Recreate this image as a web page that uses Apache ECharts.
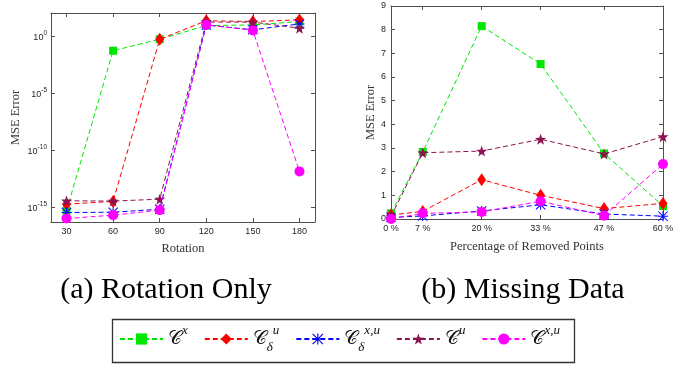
<!DOCTYPE html>
<html>
<head>
<meta charset="utf-8">
<script src="https://cdn.jsdelivr.net/npm/echarts@6/dist/echarts.min.js"></script>
<style>html,body{margin:0;padding:0;background:#fff}#c{width:685px;height:367px}</style>
</head>
<body>
<div id="c"></div>
<script>
// ---------- data ----------
const seriesNames = ['C^x', 'C^u_delta', 'C^{x,u}_delta', 'C^u', 'C^{x,u}'];

// (a) Rotation Only: x = rotation angle, y = MSE error (log scale)
const rotation = [30, 60, 90, 120, 150, 180];
const rotCx      = [5e-16, 0.05, 0.5, 8, 9, 18];
const rotCuD     = [1.8e-15, 3.2e-15, 0.5, 21, 18, 25];
const rotCxuD    = [3.4e-16, 3.6e-16, 6.6e-16, 9, 3.4, 11];
const rotCu      = [3.6e-15, 3.4e-15, 5e-15, 16, 16, 4.7];
const rotCxu     = [1e-16, 2e-16, 5.5e-16, 9, 3, 1.35e-12];
const rotYTickExponents = [-15, -10, -5, 0];

// (b) Missing Data: x = percentage of removed points, y = MSE error
const removedPct = [0, 7, 20, 33, 47, 60];
const removedPctLabels = ['0 %', '7 %', '20 %', '33 %', '47 %', '60 %'];
const missCx   = [0.24, 2.83, 8.15, 6.55, 2.77, 0.55];
const missCuD  = [0.17, 0.32, 1.66, 1.0, 0.44, 0.66];
const missCxuD = [0.07, 0.13, 0.34, 0.6, 0.21, 0.12];
const missCu   = [0.1, 2.8, 2.87, 3.37, 2.75, 3.48];
const missCxu  = [0.0, 0.24, 0.3, 0.75, 0.14, 2.32];

const legendLabels = [
  '{c|𝒞}{sup|x}',
  '{c|𝒞}{sub|δ}{sup|u}',
  '{c|𝒞}{sub|δ}{sup|x,u}',
  '{c|𝒞}{sup|u}',
  '{c|𝒞}{sup|x,u}'
];
const captions = ['(a) Rotation Only', '(b) Missing Data'];

// ---------- styles ----------
const asteriskPath = 'path://M9,0 L11,0 L11,20 L9,20 Z M0,9 L20,9 L20,11 L0,11 Z M1.4,0 L20,18.6 L18.6,20 L0,1.4 Z M18.6,0 L20,1.4 L1.4,20 L0,18.6 Z';
const starPath = 'path://M10,0.5 L12.35,7.26 L19.51,7.41 L13.8,11.74 L15.88,18.59 L10,14.5 L4.12,18.59 L6.2,11.74 L0.49,7.41 L7.65,7.26 Z';
const styles = [
  {color: '#00e600', symbol: 'rect', size: 8},
  {color: '#ff0000', symbol: 'diamond', size: [9, 13]},
  {color: '#0000ff', symbol: asteriskPath, size: 10},
  {color: '#8c1450', symbol: starPath, size: 11},
  {color: '#ff00ff', symbol: 'circle', size: 10}
];

const rotData = [rotCx, rotCuD, rotCxuD, rotCu, rotCxu];
const missData = [missCx, missCuD, missCxuD, missCu, missCxu];

const axisColor = '#505050';
const tickFont = {fontFamily: 'Liberation Sans', fontSize: 9, color: '#262626'};
const nameFont = {fontFamily: 'Liberation Serif', fontSize: 12.5, color: '#333'};

function boxAxis(type, pos, gridIndex, extra) {
  return Object.assign({
    type: 'value', position: pos, gridIndex: gridIndex,
    axisLine: {show: true, onZero: false, lineStyle: {color: axisColor, width: 1}},
    axisTick: {show: true, inside: true, length: 4, lineStyle: {color: axisColor}},
    axisLabel: {show: false},
    splitLine: {show: false}
  }, extra);
}

const series = [];
for (let i = 0; i < 5; i++) {
  const st = styles[i];
  const common = {
    type: 'line', name: seriesNames[i], symbol: st.symbol, symbolSize: st.size,
    lineStyle: {color: st.color, width: 1, type: [5, 3]},
    itemStyle: {color: st.color},
    animation: false, z: 2 + i
  };
  series.push(Object.assign({}, common, {
    xAxisIndex: 0, yAxisIndex: 0,
    data: rotation.map((x, k) => [x, Math.log10(rotData[i][k])])
  }));
  series.push(Object.assign({}, common, {
    xAxisIndex: 2, yAxisIndex: 2,
    data: removedPct.map((x, k) => [x, missData[i][k]])
  }));
}

const option = {
  backgroundColor: '#fff',
  animation: false,
  grid: [
    {left: 51, right: 370, top: 13, bottom: 145},
    {left: 391, right: 22, top: 6, bottom: 148}
  ],
  xAxis: [
    boxAxis('x', 'bottom', 0, {
      min: 20, max: 190,
      axisTick: {show: true, inside: true, length: 4, lineStyle: {color: axisColor}, customValues: rotation},
      axisLabel: Object.assign({show: true, margin: 5, customValues: rotation}, tickFont),
      name: 'Rotation', nameLocation: 'middle', nameGap: 20, nameTextStyle: nameFont
    }),
    boxAxis('x', 'top', 0, {min: 20, max: 190,
      axisTick: {show: true, inside: true, length: 4, lineStyle: {color: axisColor}, customValues: rotation}}),
    boxAxis('x', 'bottom', 1, {
      min: 0, max: 60,
      axisTick: {show: true, inside: true, length: 4, lineStyle: {color: axisColor}, customValues: removedPct},
      axisLabel: Object.assign({show: true, margin: 5, customValues: removedPct,
        formatter: v => removedPctLabels[removedPct.indexOf(v)]}, tickFont),
      name: 'Percentage of Removed Points', nameLocation: 'middle', nameGap: 21, nameTextStyle: nameFont
    }),
    boxAxis('x', 'top', 1, {min: 0, max: 60,
      axisTick: {show: true, inside: true, length: 4, lineStyle: {color: axisColor}, customValues: removedPct}})
  ],
  yAxis: [
    boxAxis('y', 'left', 0, {
      min: -16.3, max: 2,
      axisTick: {show: true, inside: true, length: 4, lineStyle: {color: axisColor}, customValues: rotYTickExponents},
      axisLabel: Object.assign({show: true, margin: 4, customValues: rotYTickExponents,
        formatter: v => '{b|10}{s|' + v + '}',
        rich: {
          b: {fontFamily: 'Liberation Sans', fontSize: 9, color: '#262626', lineHeight: 12, verticalAlign: 'bottom'},
          s: {fontFamily: 'Liberation Sans', fontSize: 6.5, color: '#262626', lineHeight: 12, verticalAlign: 'top'}
        }}, tickFont),
      name: 'MSE Error', nameLocation: 'middle', nameGap: 29, nameTextStyle: nameFont
    }),
    boxAxis('y', 'right', 0, {min: -16.3, max: 2,
      axisTick: {show: true, inside: true, length: 4, lineStyle: {color: axisColor}, customValues: rotYTickExponents}}),
    boxAxis('y', 'left', 1, {
      min: 0, max: 9, interval: 1,
      axisLabel: Object.assign({show: true, margin: 5}, tickFont),
      name: 'MSE Error', nameLocation: 'middle', nameGap: 14, nameTextStyle: nameFont
    }),
    boxAxis('y', 'right', 1, {min: 0, max: 9, interval: 1})
  ],
  legend: {
    data: seriesNames,
    left: 114, top: 319,
    itemWidth: 43, itemHeight: 14, itemGap: 16,
    formatter: name => legendLabels[seriesNames.indexOf(name)],
    textStyle: {
      rich: {
        c: {fontFamily: 'DejaVu Sans', fontSize: 19, color: '#111', lineHeight: 30, verticalAlign: 'middle'},
        sup: {fontFamily: 'Liberation Serif', fontStyle: 'italic', fontSize: 13, color: '#111', lineHeight: 30, verticalAlign: 'top'},
        sub: {fontFamily: 'Liberation Serif', fontStyle: 'italic', fontSize: 13, color: '#111', lineHeight: 30, verticalAlign: 'bottom'}
      }
    }
  },
  graphic: [
    {type: 'rect', shape: {x: 112.5, y: 319.5, width: 462, height: 43},
     style: {fill: 'none', stroke: '#333', lineWidth: 1.3}, silent: true, z: -1},
    {type: 'text', x: 166, y: 290, style: {text: captions[0], fontFamily: 'Liberation Serif', fontSize: 30,
     fill: '#000', align: 'center', verticalAlign: 'middle'}},
    {type: 'text', x: 523, y: 290, style: {text: captions[1], fontFamily: 'Liberation Serif', fontSize: 30,
     fill: '#000', align: 'center', verticalAlign: 'middle'}}
  ],
  series: series
};

const chart = echarts.init(document.getElementById('c'), null, {renderer: 'canvas'});
chart.setOption(option);
</script>
</body>
</html>
